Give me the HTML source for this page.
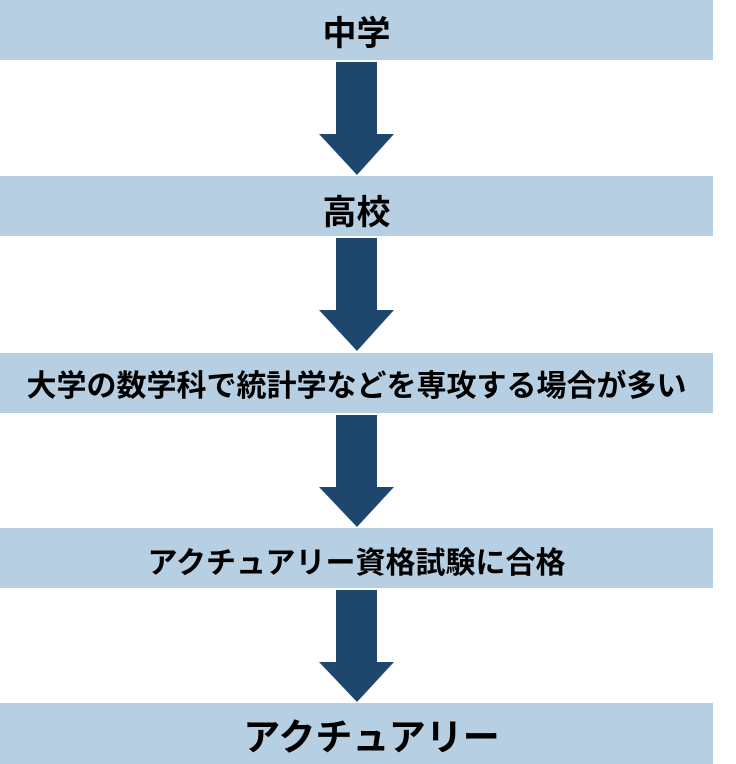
<!DOCTYPE html>
<html><head><meta charset="utf-8"><style>
body{margin:0;width:736px;height:764px;background:#fff;position:relative;overflow:hidden;font-family:"Liberation Sans","Noto Sans CJK JP",sans-serif;font-weight:bold;color:#000}
.b{position:absolute;left:0;width:713px;height:60px;background:#b7cfe2;display:flex;align-items:center;justify-content:center;white-space:nowrap;box-sizing:border-box}
</style></head><body>
<div class="b" style="top:0;font-size:34px">中学</div>
<div class="b" style="top:176px;font-size:34px;padding-top:6px">高校</div>
<div class="b" style="top:353px;font-size:30px">大学の数学科で統計学などを専攻する場合が多い</div>
<div class="b" style="top:528px;font-size:30px;padding-top:4px">アクチュアリー資格試験に合格</div>
<div class="b" style="top:703px;height:61px;font-size:37px;padding-left:30px">アクチュアリー</div>
<svg width="736" height="764" style="position:absolute;left:0;top:0">
<g fill="#1f476e">
<polygon points="336,62 377,62 377,134 394,134 357,175 319,134 336,134"/>
<polygon points="336,238 377,238 377,310 394,310 357,351 319,310 336,310"/>
<polygon points="336,415 377,415 377,487 394,487 357,527 319,487 336,487"/>
<polygon points="336,590 377,590 377,662 394,662 357,702 319,662 336,662"/>
</g></svg>
</body></html>
